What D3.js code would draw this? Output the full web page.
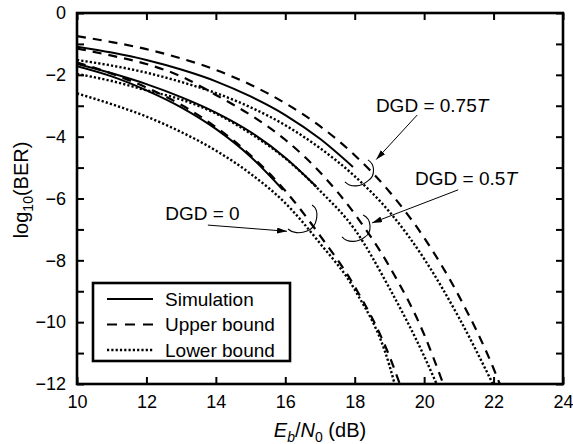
<!DOCTYPE html>
<html><head><meta charset="utf-8">
<script src="https://cdn.jsdelivr.net/npm/d3@7"></script>
<style>
body{margin:0;background:#fff}
text{font-family:"Liberation Sans",Arial,Helvetica,sans-serif;fill:#000}
</style>
</head><body>
<svg id="chart" width="573" height="444"></svg>
<script>
// ---- tick values ----
const xTickValues = [10, 12, 14, 16, 18, 20, 22, 24];
const yTickValues = [0, -1, -2, -3, -4, -5, -6, -7, -8, -9, -10, -11, -12];

// ---- DGD = 0.75T ----
const upper075X = [10, 11, 12, 13, 14, 15, 16, 17, 18, 19, 20, 21, 22, 22.18];
const upper075Y = [-0.75, -0.94, -1.17, -1.47, -1.84, -2.32, -2.92, -3.66, -4.6, -5.78, -7.27, -9.15, -11.5, -12];
const sim075X = [10, 11, 12, 13, 14, 15, 16, 17, 17.95];
const sim075Y = [-1.09, -1.28, -1.52, -1.83, -2.21, -2.7, -3.3, -4.07, -4.98];
const lower075X = [10, 11, 12, 13, 14, 15, 16, 17, 18, 19, 20, 21, 21.98];
const lower075Y = [-1.52, -1.70, -1.93, -2.23, -2.59, -3.05, -3.63, -4.37, -5.28, -6.43, -7.95, -9.85, -12];

// ---- DGD = 0.5T ----
const upper05X = [10, 11, 12, 13, 14, 15, 16, 17, 18, 19, 20, 20.55];
const upper05Y = [-1.15, -1.38, -1.65, -2.05, -2.65, -3.3, -4.1, -5.15, -6.5, -8.2, -10.4, -12];
const sim05X = [10, 11, 12, 13, 14, 15, 16, 16.9];
const sim05Y = [-1.65, -1.95, -2.3, -2.72, -3.22, -3.85, -4.68, -5.62];
const lower05X = [10, 11, 12, 13, 14, 15, 16, 17, 18, 19, 20, 20.36];
const lower05Y = [-1.97, -2.2, -2.5, -2.8, -3.25, -3.9, -4.7, -5.75, -7.0, -8.9, -11.1, -12];

// ---- DGD = 0 ----
const upper0X = [10, 11, 12, 13, 14, 15, 16, 17, 18, 19, 19.3];
const upper0Y = [-1.6, -1.96, -2.41, -2.97, -3.69, -4.6, -5.75, -7.2, -8.85, -11.1, -12];
const sim0X = [10, 11, 12, 13, 14, 15, 15.93];
const sim0Y = [-1.72, -2.05, -2.5, -3.05, -3.75, -4.65, -5.72];
const lower0X = [10, 11, 12, 13, 14, 15, 16, 17, 18, 19, 19.15];
const lower0Y = [-2.6, -2.95, -3.35, -3.85, -4.45, -5.2, -6.15, -7.45, -8.95, -11.4, -12];

// ---- legend ----
const legendLabels = ["Simulation", "Upper bound", "Lower bound"];
const legendKinds = ["sim", "upper", "lower"];

// ---- annotations (data units) ----
const annotLabels = ["DGD = 0.75", "DGD = 0.5", "DGD = 0"];
const annotItalic = ["T", "T", ""];

const styles = {
  sim:   {dash: null,      width: 2.0},
  upper: {dash: "9,7",     width: 2.2},
  lower: {dash: "2.2,2.1", width: 2.4}
};

const svg = d3.select("#chart");
const W = 573, H = 444;
const margin = {left: 77, right: 10, top: 13, bottom: 60};
const x = d3.scaleLinear().domain([10, 24]).range([margin.left, W - margin.right]);
const y = d3.scaleLinear().domain([-12, 0]).range([H - margin.bottom, margin.top]);

svg.append("defs").append("clipPath").attr("id", "clip")
  .append("rect").attr("x", x(10)).attr("y", y(0)).attr("width", x(24) - x(10)).attr("height", y(-12) - y(0));

const series = [
  {kind: "upper", xs: upper075X, ys: upper075Y},
  {kind: "sim",   xs: sim075X,   ys: sim075Y},
  {kind: "lower", xs: lower075X, ys: lower075Y},
  {kind: "upper", xs: upper05X,  ys: upper05Y},
  {kind: "sim",   xs: sim05X,    ys: sim05Y},
  {kind: "lower", xs: lower05X,  ys: lower05Y},
  {kind: "upper", xs: upper0X,   ys: upper0Y},
  {kind: "sim",   xs: sim0X,     ys: sim0Y},
  {kind: "lower", xs: lower0X,   ys: lower0Y}
];

const line = d3.line().x(d => x(d[0])).y(d => y(d[1])).curve(d3.curveMonotoneX);

const gLines = svg.append("g").attr("clip-path", "url(#clip)");
series.forEach(s => {
  const pts = s.xs.map((v, i) => [v, s.ys[i]]);
  const st = styles[s.kind];
  gLines.append("path").attr("d", line(pts))
    .attr("fill", "none").attr("stroke", "#000")
    .attr("stroke-width", st.width)
    .attr("stroke-dasharray", st.dash);
});

// ---- axes ----
const fmt = d3.format("d");
const tickFont = "18px";
const gx = svg.append("g").attr("transform", `translate(0,${y(-12)})`)
  .call(d3.axisBottom(x).tickValues(xTickValues).tickFormat(fmt).tickSizeInner(-7).tickSizeOuter(0).tickPadding(11));
const gxt = svg.append("g").attr("transform", `translate(0,${y(0)})`)
  .call(d3.axisTop(x).tickValues(xTickValues).tickFormat("").tickSizeInner(-7).tickSizeOuter(0));
const gy = svg.append("g").attr("transform", `translate(${x(10)},0)`)
  .call(d3.axisLeft(y).tickValues(yTickValues).tickFormat(d => d % 2 === 0 ? fmt(d) : "").tickSizeInner(-7).tickSizeOuter(0).tickPadding(11));
const gyr = svg.append("g").attr("transform", `translate(${x(24)},0)`)
  .call(d3.axisRight(y).tickValues(yTickValues).tickFormat("").tickSizeInner(-7).tickSizeOuter(0));
[gx, gxt, gy, gyr].forEach(g => {
  g.select(".domain").remove();
  g.selectAll(".tick line").attr("stroke", "#000").attr("stroke-width", 2);
  g.selectAll(".tick text").style("font-size", tickFont).style("font-family", '"Liberation Sans",Arial,sans-serif').attr("fill", "#000");
});

svg.append("rect").attr("x", x(10)).attr("y", y(0))
  .attr("width", x(24) - x(10)).attr("height", y(-12) - y(0))
  .attr("fill", "none").attr("stroke", "#000").attr("stroke-width", 2.6);

// ---- axis labels ----
const xl = svg.append("text").attr("x", 320).attr("y", 437).attr("text-anchor", "middle").style("font-size", "20px");
xl.append("tspan").attr("font-style", "italic").text("E");
xl.append("tspan").attr("font-style", "italic").attr("dy", 5).style("font-size", "14px").text("b");
xl.append("tspan").attr("dy", -5).text("/");
xl.append("tspan").attr("font-style", "italic").text("N");
xl.append("tspan").attr("dy", 5).style("font-size", "14px").text("0");
xl.append("tspan").attr("dy", -5).text(" (dB)");

const yl = svg.append("text").attr("transform", "translate(28,190) rotate(-90)").attr("text-anchor", "middle").style("font-size", "20px");
yl.append("tspan").text("log");
yl.append("tspan").attr("dy", 5).style("font-size", "14px").text("10");
yl.append("tspan").attr("dy", -5).text("(BER)");

// ---- legend ----
const lg = svg.append("g");
lg.append("rect").attr("x", 93).attr("y", 283).attr("width", 197).attr("height", 78)
  .attr("fill", "#fff").attr("stroke", "#000").attr("stroke-width", 2.6);
legendKinds.forEach((k, i) => {
  const yy = 299 + i * 25.5;
  const st = styles[k];
  lg.append("line").attr("x1", 107).attr("x2", 153).attr("y1", yy).attr("y2", yy)
    .attr("stroke", "#000").attr("stroke-width", st.width)
    .attr("stroke-dasharray", k === "upper" ? "10,8" : st.dash);
  lg.append("text").attr("x", 165).attr("y", yy).attr("dy", "0.36em").style("font-size", "19px").text(legendLabels[i]);
});

// ---- annotations ----
svg.append("defs").append("marker").attr("id", "arr").attr("viewBox", "0 0 10 6")
  .attr("refX", 10).attr("refY", 3).attr("markerWidth", 10).attr("markerHeight", 6)
  .attr("markerUnits", "userSpaceOnUse").attr("orient", "auto")
  .append("path").attr("d", "M0,0 L10,3 L0,6 Z").attr("fill", "#000");

const annots = [
  {label: annotLabels[0], it: annotItalic[0], tx: 18.61, ty: -3.2,  a0: [19.8, -3.3],  a1: [18.62, -4.74], b: [18.38, -4.75]},
  {label: annotLabels[1], it: annotItalic[1], tx: 19.74, ty: -5.56, a0: [20.98, -5.72], a1: [18.5, -6.79],  b: [18.24, -6.53]},
  {label: annotLabels[2], it: annotItalic[2], tx: 12.54, ty: -6.69, a0: [13.77, -6.86], a1: [16.05, -7.06], b: [16.77, -6.21]}
];
const brackets = [
  "M0,0 C7,4 8,16 0,21 C-7,27 -17,28 -23,22",
  "M0,0 C9,4 9,18 2,22 C-4,27 -15,29 -21,22",
  "M0,0 C8,5 6,22 -5,26 C-12,29 -20,28 -24,24"
];
annots.forEach((a, i) => {
  const t = svg.append("text").attr("x", x(a.tx)).attr("y", y(a.ty)).style("font-size", "19px");
  t.append("tspan").text(a.label);
  if (a.it) t.append("tspan").attr("font-style", "italic").text(a.it);
  svg.append("line").attr("x1", x(a.a0[0])).attr("y1", y(a.a0[1]))
    .attr("x2", x(a.a1[0])).attr("y2", y(a.a1[1]))
    .attr("stroke", "#000").attr("stroke-width", 1).attr("marker-end", "url(#arr)");
  svg.append("path").attr("transform", `translate(${x(a.b[0])},${y(a.b[1])})`)
    .attr("d", brackets[i]).attr("fill", "none").attr("stroke", "#000").attr("stroke-width", 1.1);
});
</script>
</body></html>
